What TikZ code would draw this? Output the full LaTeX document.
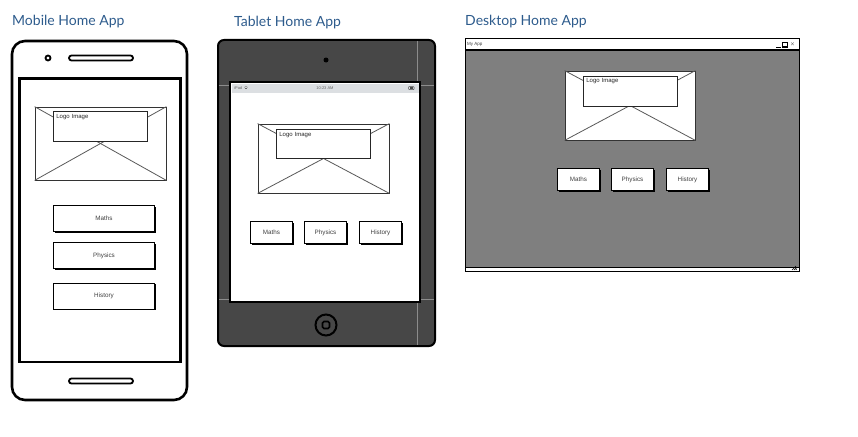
\documentclass[tikz,border=0pt]{standalone}
\usepackage{fontspec}
\setmainfont{Liberation Sans}
\newfontfamily\titlefont{Lato}
\usetikzlibrary{shadows}
\definecolor{titleblue}{HTML}{2D5B8C}
\definecolor{tabletgray}{HTML}{474747}
\definecolor{deskgray}{HTML}{7F7F7F}
\definecolor{statusgray}{HTML}{DCDFE2}
\begin{document}
\begin{tikzpicture}[x=1pt,y=-1pt,
  title/.style={anchor=base west,inner sep=0,font=\titlefont\fontsize{14}{16}\selectfont,text=titleblue},
  btn/.style={draw=black,line width=0.8pt,fill=white,inner sep=0,
    font=\fontsize{6.3}{7}\selectfont,text=black!75,
    drop shadow={shadow xshift=1.4pt,shadow yshift=-1.4pt,fill=black,opacity=1}},
  holder/.style={draw=black!80,line width=0.8pt,fill=white,inner sep=0},
  xline/.style={draw=black!65,line width=0.8pt},
  caption/.style={draw=black!85,line width=0.7pt,fill=white,inner xsep=3pt,inner ysep=2.5pt,
    font=\fontsize{6}{7}\selectfont,text=black!85,align=left},
  slot/.style={draw=black,line width=1.8pt,rounded corners=2.5pt},
]
\useasboundingbox (0,0) rectangle (858,436);

% ---------- titles ----------
\node[title] (tm) at (12,26) {Mobile Home App};
\node[title] (tt) at (234,27) {Tablet Home App};
\node[title] (td) at (465,26) {Desktop Home App};

% ---------- mobile phone ----------
\draw[line width=2.6pt,rounded corners=13pt] (12,41) rectangle (187,400);
\node[draw,line width=1.8pt,circle,minimum size=5pt,inner sep=0] (cam) at (48,58) {};
\draw[slot] (69,55.5) rectangle (133,60.5);
\draw[line width=2.8pt] (19.5,78.5) rectangle (180.5,362);
\draw[slot] (69,378.5) rectangle (133,383.5);

\node[holder,minimum width=131pt,minimum height=73pt] (mph) at (100.5,143.5) {};
\draw[xline] (mph.north west) -- (mph.south east);
\draw[xline] (mph.north east) -- (mph.south west);
\node[caption,text width=88pt,minimum height=30pt,anchor=north west,text depth=20pt] (mlg) at (53,111) {Logo Image};

\node[btn,minimum width=101pt,minimum height=26pt] (mb1) at (104,218.5) {Maths};
\node[btn,minimum width=101pt,minimum height=26pt] (mb2) at (104,255.5) {Physics};
\node[btn,minimum width=101pt,minimum height=26pt] (mb3) at (104,296) {History};

% ---------- tablet ----------
\draw[line width=2pt,fill=tabletgray,rounded corners=6pt] (218,40) rectangle (435,346);
\draw[black!45,line width=0.4pt] (219,85) -- (434,85);
\draw[black!45,line width=0.4pt] (219,299.5) -- (434,299.5);
\draw[black!45,line width=0.4pt] (417.5,41) -- (417.5,345);
\node[circle,fill=black,minimum size=5pt,inner sep=0] (tcam) at (326,60) {};
\draw[line width=2.8pt,fill=white] (230,82) rectangle (420,302);
\fill[statusgray] (231.5,83.5) rectangle (418.5,92.5);
\node[font=\fontsize{4}{4}\selectfont,text=black!60,inner sep=0,anchor=west] (tip) at (234,88) {iPad};
\draw[black!60,line width=0.4pt] (244.2,87.3) arc (225:315:2.5);
\draw[black!60,line width=0.4pt] (245.2,88.4) arc (225:315:1.2);
\node[font=\fontsize{4}{4}\selectfont,text=black!60,inner sep=0] (ttime) at (325,88) {10:23 AM};
\draw[black!70,line width=0.5pt,rounded corners=0.8pt] (408.5,86.5) rectangle (414,89.7);
\fill[black!70] (409.5,87.4) rectangle (412.8,88.8);
\node[draw,line width=2pt,circle,minimum size=21pt,inner sep=0] (thome) at (326,325) {};
\draw[line width=1.6pt,rounded corners=1.5pt] (322.5,321.5) rectangle (329.5,328.5);

\node[holder,minimum width=131pt,minimum height=69pt] (tph) at (323.5,158.5) {};
\draw[xline] (tph.north west) -- (tph.south east);
\draw[xline] (tph.north east) -- (tph.south west);
\node[caption,text width=88pt,minimum height=29pt,anchor=north west,text depth=19pt] (tlg) at (276,129) {Logo Image};

\node[btn,minimum width=42pt,minimum height=22pt] (tb1) at (271.5,232.5) {Maths};
\node[btn,minimum width=42pt,minimum height=22pt] (tb2) at (325.5,232.5) {Physics};
\node[btn,minimum width=42pt,minimum height=22pt] (tb3) at (380.5,232.5) {History};

% ---------- desktop window ----------
\draw[line width=1pt,fill=white] (465,39) rectangle (799,271);
\fill[deskgray] (465.5,50) rectangle (798.5,267);
\draw[line width=1.3pt] (465,50) -- (799,50);
\draw[line width=0.6pt] (465,267) -- (799,267);
\node[font=\fontsize{4.5}{5}\selectfont,text=black!75,inner sep=0,anchor=west] (dtitle) at (467,44.5) {My App};
\draw[line width=0.7pt] (776,47) -- (781,47);
\draw[line width=0.6pt,fill=black] (782.5,42) rectangle (787.5,47);
\fill[white] (783.3,43.5) rectangle (786.7,46.3);
\node[font=\fontsize{5}{5}\selectfont,inner sep=0] (dclose) at (792.5,44.5) {$\times$};
\draw[line width=0.5pt] (792,270) -- (796,266) (794,270) -- (796.5,267.5) (795.8,270) -- (797,268.8);

\node[holder,minimum width=130pt,minimum height=69pt] (dph) at (630,105.5) {};
\draw[xline] (dph.north west) -- (dph.south east);
\draw[xline] (dph.north east) -- (dph.south west);
\node[caption,text width=88pt,minimum height=30pt,anchor=north west,text depth=20pt] (dlg) at (583,75.5) {Logo Image};

\node[btn,minimum width=42pt,minimum height=22pt] (db1) at (578.5,179.5) {Maths};
\node[btn,minimum width=42pt,minimum height=22pt] (db2) at (632.5,179.5) {Physics};
\node[btn,minimum width=42pt,minimum height=22pt] (db3) at (687.5,179.5) {History};
\end{tikzpicture}
\end{document}
